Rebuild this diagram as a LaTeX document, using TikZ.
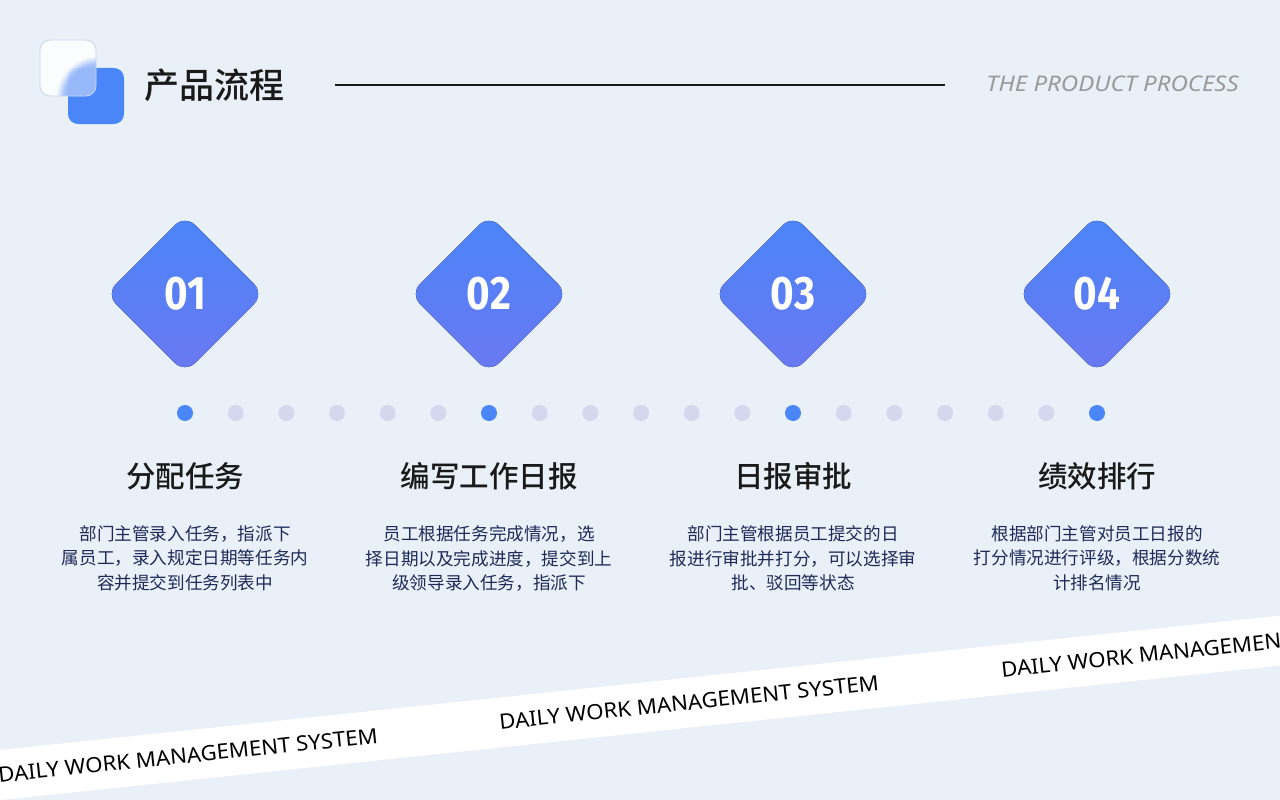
\documentclass[tikz,border=0pt]{standalone}
\usepackage{fontspec}
\setmainfont{Noto Sans}
\newfontfamily\cjk{Noto Sans CJK SC}
\newfontfamily\cjkm{Noto Sans CJK SC Medium}
\newfontfamily\numfont{Fira Sans}
\usetikzlibrary{calc,fadings}
\definecolor{bg}{HTML}{E9F0F8}
\definecolor{blueA}{HTML}{4A86F7}
\definecolor{blueT}{HTML}{4B85F8}
\definecolor{blueB}{HTML}{6A78F2}
\definecolor{dotgray}{HTML}{D4D8EE}
\definecolor{navy}{HTML}{1E2A58}
\definecolor{headgray}{HTML}{9A9A9A}
\definecolor{darktxt}{HTML}{1A1A1A}
\definecolor{logoedge}{HTML}{C9D5F3}
\tikzset{
  diamondbox/.style={rounded corners=14pt, top color=blueT, bottom color=blueB, draw=none},
  numtext/.style={text=white, font=\numfont\bfseries\fontsize{47}{50}\selectfont},
  steptitle/.style={text=darktxt, font=\cjkm\fontsize{29.5}{33}\selectfont},
  stepdesc/.style={text=navy, align=center, font=\cjk\fontsize{17.6}{24.6}\selectfont},
  bluedot/.style={circle, fill=blueA, minimum size=16pt, inner sep=0pt},
  graydot/.style={circle, fill=dotgray, minimum size=16pt, inner sep=0pt},
  bandtext/.style={text=black, font=\fontsize{21}{24}\selectfont, rotate=6, inner sep=0pt}
}
\begin{document}
\begin{tikzpicture}[x=1pt,y=-1pt]
\fill[bg] (0,0) rectangle (1280,800);
\useasboundingbox (0,0) rectangle (1280,800);
\clip (0,0) rectangle (1280,800);
% logo
\fill[blueA, rounded corners=10pt] (68,68) rectangle (124,124);
\fill[white, opacity=0.82, rounded corners=10pt] (40,40) rectangle (96,96);
\begin{scope}
  \clip[rounded corners=10pt] (40,40) rectangle (96,96);
  \fill[blueA!70!white, opacity=0.75, path fading=circle with fuzzy edge 20 percent] (98,98) circle (42);
\end{scope}
\draw[logoedge, line width=0.8pt, rounded corners=10pt] (40,40) rectangle (96,96);
\node[anchor=west, inner sep=0pt, text=darktxt, font=\cjkm\fontsize{35}{38}\selectfont] (title) at (144,85) {产品流程};
\coordinate (l1) at (335,85);
\coordinate (l2) at (945,85);
\draw[line width=1.5pt, black!90] (l1) -- (l2);
\node[anchor=east, inner sep=0pt, text=headgray, font=\itshape\fontsize{21.5}{24}\selectfont] (sub) at (1239,84) {\scalebox{1.12}[1]{THE PRODUCT PROCESS}};
% diamonds
\foreach \i/\x/\n in {1/185/01, 2/489/02, 3/793/03, 4/1097/04}{
  \fill[diamondbox] (\x,215) -- (\x+79,294) -- (\x,373) -- (\x-79,294) -- cycle;
  \node[numtext] (num\i) at (\x,294) {\scalebox{0.86}[1]{\n}};
}
% dots
\foreach \k in {0,...,18}{
  \pgfmathsetmacro{\dx}{185+\k*50.6667}
  \pgfmathtruncatemacro{\m}{mod(\k,6)}
  \ifnum\m=0
    \node[bluedot] (dot\k) at (\dx,413) {};
  \else
    \node[graydot] (dot\k) at (\dx,413) {};
  \fi
}
% titles
\node[steptitle] (t1) at (185,476) {分配任务};
\node[steptitle] (t2) at (489,476) {编写工作日报};
\node[steptitle] (t3) at (793,476) {日报审批};
\node[steptitle] (t4) at (1097,476) {绩效排行};
% descriptions
\node[stepdesc, anchor=north] (d1) at (185,522) {部门主管录入任务，指派下\\属员工，录入规定日期等任务内\\容并提交到任务列表中};
\node[stepdesc, anchor=north] (d2) at (489,522) {员工根据任务完成情况，选\\择日期以及完成进度，提交到上\\级领导录入任务，指派下};
\node[stepdesc, anchor=north] (d3) at (793,522) {部门主管根据员工提交的日\\报进行审批并打分，可以选择审\\批、驳回等状态};
\node[stepdesc, anchor=north] (d4) at (1097,522) {根据部门主管对员工日报的\\打分情况进行评级，根据分数统\\计排名情况};
% band
\fill[white] (-10,751.05) -- (1290,614.55) -- (1290,664.55) -- (-10,801.05) -- cycle;
\node[bandtext] (b1) at (188,755.5) {\scalebox{1.06}[1]{DAILY WORK MANAGEMENT SYSTEM}};
\node[bandtext] (b2) at (689,702.5) {\scalebox{1.06}[1]{DAILY WORK MANAGEMENT SYSTEM}};
\node[bandtext] (b3) at (1191,650) {\scalebox{1.06}[1]{DAILY WORK MANAGEMENT SYSTEM}};
\end{tikzpicture}
\end{document}
